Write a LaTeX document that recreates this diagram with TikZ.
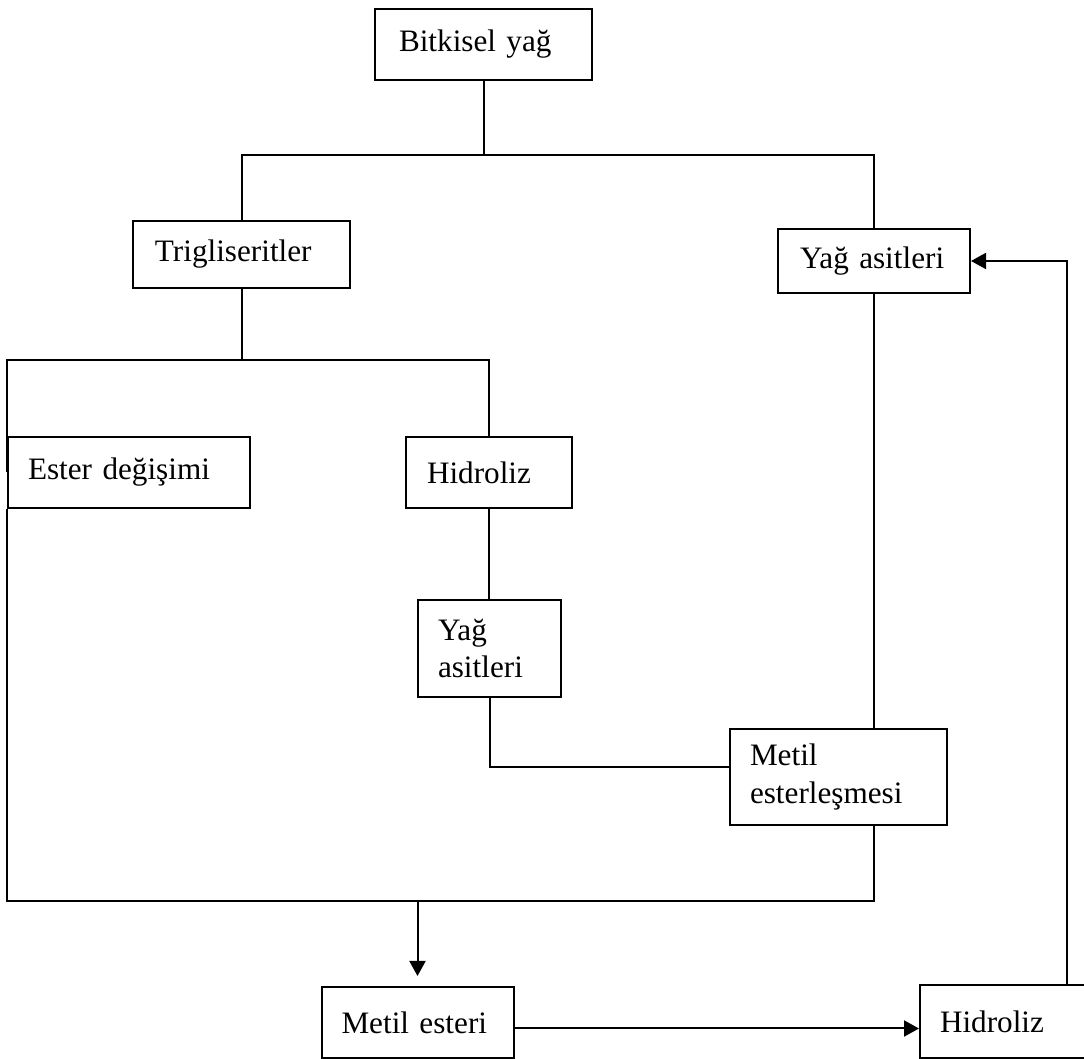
\documentclass[tikz,border=0pt]{standalone}
\usepackage{fontspec}
\setmainfont{Liberation Serif}
\usetikzlibrary{arrows.meta}
\begin{document}
\begin{tikzpicture}[x=0.5pt,y=-0.5pt,line width=1pt,
  kutu/.style={draw,inner sep=0pt,align=left,font=\fontsize{15.6}{18.6}\selectfont},
  ok/.style={-{Triangle[length=7.5pt,width=8pt]}}]
\useasboundingbox (0,0) rectangle (1084,1059);
\node[kutu,minimum width=108.5pt,minimum height=35.5pt,text width=84.5pt] (bitki) at (483.5,44.5) {Bitkisel yağ};
\node[kutu,minimum width=108.5pt,minimum height=33.5pt,text width=86.5pt] (trig) at (241.5,254.5) {Trigliseritler};
\node[kutu,minimum width=96pt,minimum height=32pt,text width=74pt] (yagR) at (874,261) {Yağ asitleri};
\node[kutu,minimum width=121pt,minimum height=35.5pt,text width=101pt] (ester) at (129,472.5) {Ester değişimi};
\node[kutu,minimum width=83pt,minimum height=35.5pt,text width=62pt] (hidM) at (489,472.5) {Hidroliz};
\node[kutu,minimum width=71.5pt,minimum height=48.5pt,text width=51.5pt] (yagM) at (489.5,648.5) {Yağ\\asitleri};
\node[kutu,minimum width=108.5pt,minimum height=48pt,text width=88.5pt] (metilE) at (838.5,777) {Metil\\esterleşmesi};
\node[kutu,minimum width=96pt,minimum height=35.5pt,text width=76pt] (metilEst) at (417.5,1022.5) {Metil esteri};
\node[kutu,minimum width=90pt,minimum height=36.5pt,text width=70pt] (hidR) at (1010,1021.5) {Hidroliz};
\coordinate (ust) at (483.5,155);
\coordinate (orta) at (241.5,360);
\coordinate (alt) at (417.5,901);
\coordinate (sag) at (1067,261);
\draw (bitki) -- (ust);
\draw (trig.north) |- (ust) -| (yagR.north);
\draw (trig) -- (orta);
\draw (ester.west) |- (orta) -| (hidM.north);
\draw (hidM.south) -- (hidM.south |- yagM.north);
\draw (yagM.south) |- ([yshift=5pt]metilE.west);
\draw (yagR.south) -- (yagR.south |- metilE.north);
\draw (ester.south west) |- (alt) -| (yagR.south |- metilE.south);
\draw[ok,shorten >=5pt] (alt) -- (metilEst);
\draw[ok] ([yshift=-3pt]metilEst.east) -- ([yshift=-3pt]metilEst.east -| hidR.west);
\draw[ok] (hidR.north -| sag) -- (sag) -- (yagR);
\end{tikzpicture}
\end{document}
